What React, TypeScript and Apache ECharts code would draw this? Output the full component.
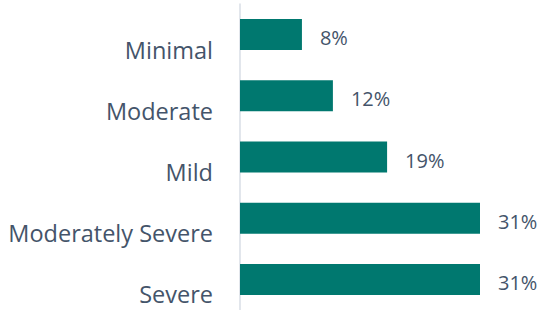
import React, { useEffect, useRef } from "react";
import * as echarts from "echarts";

const categories = ["Minimal", "Moderate", "Mild", "Moderately Severe", "Severe"];
const values = [8, 12, 19, 31, 31];

const TEXT = "#44546A";
const BAR = "#00786F";

export default function App() {
  const ref = useRef<HTMLDivElement>(null);
  useEffect(() => {
    if (!ref.current) return;
    const chart = echarts.init(ref.current, null, { renderer: "svg" });
    chart.setOption({
      animation: false,
      backgroundColor: "#ffffff",
      grid: { left: 240, right: 60, top: 4, bottom: -2, containLabel: false },
      xAxis: {
        type: "value",
        min: 0,
        max: 31,
        show: false,
        splitLine: { show: false },
      },
      yAxis: {
        type: "category",
        data: categories,
        inverse: true,
        axisTick: { show: false },
        axisLine: { show: true, lineStyle: { color: "#D9DEE6", width: 1.5 } },
        axisLabel: {
          color: TEXT,
          fontSize: 23.5,
          fontFamily: "Open Sans",
          margin: 27,
          verticalAlign: "top",
          lineHeight: 30,
        },
      },
      series: [
        {
          type: "bar",
          data: values,
          barWidth: 31,
          itemStyle: { color: BAR },
          label: {
            show: true,
            position: "right",
            distance: 18,
            offset: [0, 3],
            formatter: "{c}%",
            color: TEXT,
            fontSize: 20,
            fontFamily: "Open Sans",
          },
        },
      ],
    });
    return () => chart.dispose();
  }, []);
  return (
    <div
      ref={ref}
      style={{ position: "fixed", left: 0, top: 0, width: 540, height: 310 }}
    />
  );
}
